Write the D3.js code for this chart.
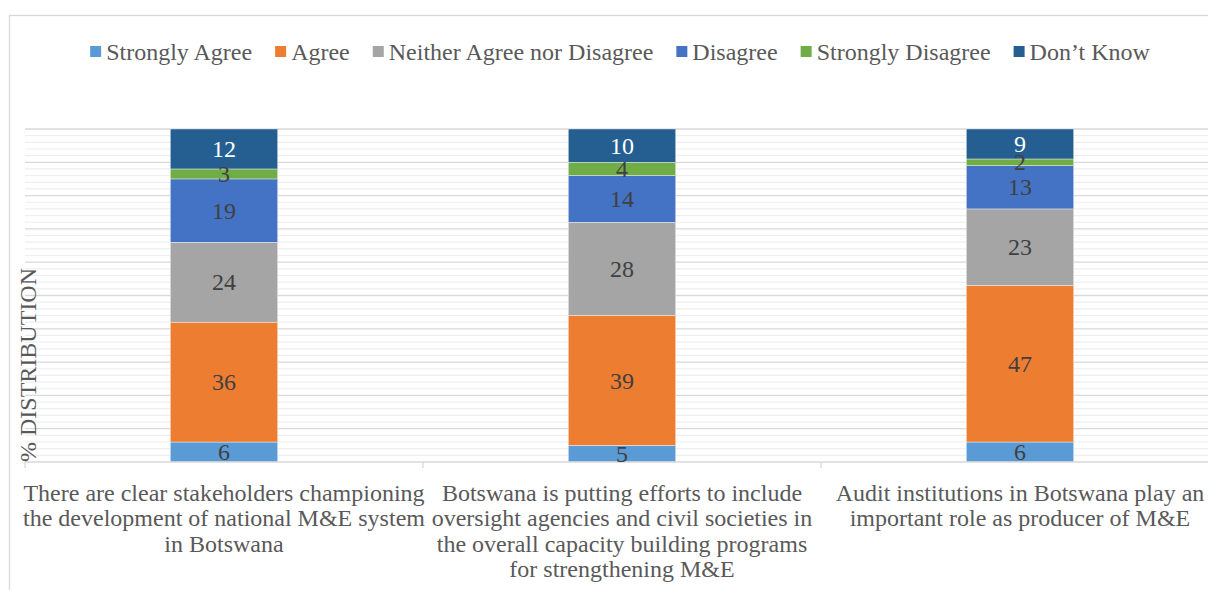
<!DOCTYPE html>
<html>
<head>
<meta charset="utf-8">
<script src="https://cdn.jsdelivr.net/npm/d3@7"></script>
<style>
  html, body { margin: 0; padding: 0; background: #fff; }
  svg text { font-family: 'Liberation Serif', 'Times New Roman', Tinos, 'DejaVu Serif', serif; }
</style>
</head>
<body>
<svg id="chart" width="1208" height="590"></svg>
<script>
// Survey statements (x categories), drawn as wrapped lines
const categories = [
  "There are clear stakeholders championing the development of national M&E system in Botswana",
  "Botswana is putting efforts to include oversight agencies and civil societies in the overall capacity building programs for strengthening M&E",
  "Audit institutions in Botswana play an important role as producer of M&E"
];
const categoryLines = [
  ["There are clear stakeholders championing", "the development of national M&E system", "in Botswana"],
  ["Botswana is putting efforts to include", "oversight agencies and civil societies in", "the overall capacity building programs", "for strengthening M&E"],
  ["Audit institutions in Botswana play an", "important role as producer of M&E"]
];

// Response series (bottom to top), % of respondents per statement
const seriesNames = ["Strongly Agree", "Agree", "Neither Agree nor Disagree", "Disagree", "Strongly Disagree", "Don\u2019t Know"];
const stronglyAgree    = [6, 5, 6];
const agree            = [36, 39, 47];
const neither          = [24, 28, 23];
const disagree         = [19, 14, 13];
const stronglyDisagree = [3, 4, 2];
const dontKnow         = [12, 10, 9];

const seriesColors = ["#5B9BD5", "#ED7D31", "#A5A5A5", "#4472C4", "#70AD47", "#255E91"];
const labelColors  = ["#404040", "#404040", "#404040", "#404040", "#404040", "#ffffff"];

const yAxisTitle = "% DISTRIBUTION";

const seriesValues = [stronglyAgree, agree, neither, disagree, stronglyDisagree, dontKnow];
const rows = categories.map((c, i) => {
  const r = { category: c };
  seriesNames.forEach((s, k) => { r[s] = seriesValues[k][i]; });
  return r;
});
const stacked = d3.stack().keys(seriesNames)(rows);

const FONT = "'Liberation Serif', 'Times New Roman', Tinos, 'DejaVu Serif', serif";
const FS = 24;
const svg = d3.select("#chart");

// Chart frame
svg.append("rect")
  .attr("x", 9.5).attr("y", 15.5)
  .attr("width", 1230).attr("height", 600)
  .attr("fill", "#fff").attr("stroke", "#d9d9d9").attr("stroke-width", 1.3);

const plot = { left: 25, right: 1219, top: 129, bottom: 462 };

const x = d3.scaleBand()
  .domain(categories)
  .range([plot.left, plot.right])
  .paddingInner(0.73).paddingOuter(0.365);

const y = d3.scaleLinear().domain([0, 100]).range([plot.bottom, plot.top]);

// Gridlines: minor every 2, major every 10
const grid = svg.append("g");
grid.selectAll("line.minor")
  .data(d3.range(2, 100, 2).filter(v => v % 10 !== 0))
  .join("line")
  .attr("x1", plot.left).attr("x2", plot.right)
  .attr("y1", d => y(d)).attr("y2", d => y(d))
  .attr("stroke", "#eeeeee").attr("stroke-width", 1.2);
grid.selectAll("line.major")
  .data(d3.range(10, 101, 10))
  .join("line")
  .attr("x1", plot.left).attr("x2", plot.right)
  .attr("y1", d => y(d)).attr("y2", d => y(d))
  .attr("stroke", "#d9d9d9").attr("stroke-width", 1.3);

// Stacked bars
const layers = svg.append("g").selectAll("g")
  .data(stacked)
  .join("g")
  .attr("fill", (d, i) => seriesColors[i]);

layers.selectAll("rect")
  .data(d => d)
  .join("rect")
  .attr("x", d => x(d.data.category))
  .attr("width", x.bandwidth())
  .attr("y", d => y(d[1]))
  .attr("height", d => y(d[0]) - y(d[1]))
  .attr("stroke", "#ffffff").attr("stroke-width", 0.4);

// Category axis (line + ticks at category boundaries)
const axis = svg.append("g");
axis.append("line")
  .attr("x1", plot.left).attr("x2", plot.right)
  .attr("y1", plot.bottom).attr("y2", plot.bottom)
  .attr("stroke", "#d9d9d9").attr("stroke-width", 1.3);
const step = x.step();
axis.selectAll("line.tick")
  .data(d3.range(categories.length + 1))
  .join("line")
  .attr("x1", i => plot.left + i * step).attr("x2", i => plot.left + i * step)
  .attr("y1", plot.bottom).attr("y2", plot.bottom + 6)
  .attr("stroke", "#d9d9d9").attr("stroke-width", 1.3);

// Value labels centred in each segment
stacked.forEach((layer, k) => {
  svg.append("g").selectAll("text")
    .data(layer)
    .join("text")
    .attr("font-family", FONT)
    .attr("x", d => x(d.data.category) + x.bandwidth() / 2)
    .attr("y", d => y((d[0] + d[1]) / 2))
    .attr("dy", "0.34em")
    .attr("text-anchor", "middle")
    .attr("font-size", FS)
    .attr("fill", labelColors[k])
    .text(d => d[1] - d[0]);
});

// Category labels
const catG = svg.append("g");
categories.forEach((c, i) => {
  const t = catG.append("text")
    .attr("font-family", FONT)
    .attr("x", x(c) + x.bandwidth() / 2)
    .attr("y", 501)
    .attr("text-anchor", "middle")
    .attr("font-size", FS)
    .attr("fill", "#595959");
  categoryLines[i].forEach((line, j) => {
    t.append("tspan")
      .attr("x", x(c) + x.bandwidth() / 2)
      .attr("dy", j === 0 ? 0 : 25.3)
      .text(line);
  });
});

// Y-axis title
svg.append("text")
  .attr("font-family", FONT)
  .attr("transform", "translate(36,462) rotate(-90)")
  .attr("text-anchor", "start")
  .attr("font-size", FS)
  .attr("fill", "#595959")
  .text(yAxisTitle);

// Legend
const legend = svg.append("g");
const itemGap = 23, sw = 11, textGap = 5;
const items = seriesNames.map((s, i) => {
  const t = legend.append("text")
    .attr("font-family", FONT)
    .attr("font-size", FS)
    .attr("fill", "#595959")
    .attr("y", 60)
    .text(s);
  return { t, w: t.node().getComputedTextLength(), i };
});
const total = d3.sum(items, d => sw + textGap + d.w) + itemGap * (items.length - 1);
let cx = 620 - total / 2;
items.forEach(d => {
  legend.append("rect")
    .attr("x", cx).attr("y", 46)
    .attr("width", sw).attr("height", sw)
    .attr("fill", seriesColors[d.i]);
  d.t.attr("x", cx + sw + textGap);
  cx += sw + textGap + d.w + itemGap;
});
</script>
</body>
</html>
